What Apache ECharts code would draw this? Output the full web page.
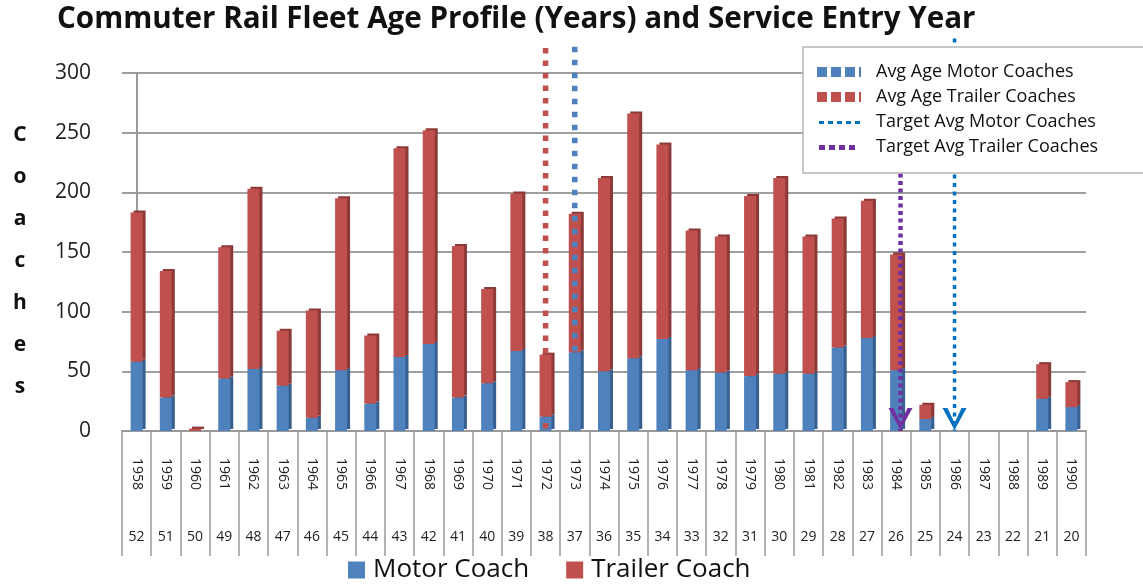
<!DOCTYPE html>
<html><head><meta charset="utf-8">
<script src="https://cdn.jsdelivr.net/npm/echarts@6/dist/echarts.min.js"></script>
<style>html,body{margin:0;padding:0;background:#fff}#c{width:1143px;height:586px}</style>
</head><body><div id="c"></div>
<script>
// ---- data ----
const years = ['1958','1959','1960','1961','1962','1963','1964','1965','1966','1967','1968','1969','1970','1971','1972','1973','1974','1975','1976','1977','1978','1979','1980','1981','1982','1983','1984','1985','1986','1987','1988','1989','1990'];
const ages = ['52','51','50','49','48','47','46','45','44','43','42','41','40','39','38','37','36','35','34','33','32','31','30','29','28','27','26','25','24','23','22','21','20'];
const motorCoach   = [58,28,0,44,52,38,11,51,23,62,73,28,40,67,12,66,50,61,77,51,49,46,48,48,70,78,51,10,0,0,0,27,20];
const trailerCoach = [125,106,2,110,151,46,90,144,57,175,179,127,79,132,52,116,162,205,163,117,114,151,164,115,108,115,97,12,0,0,0,29,21];
const yAxisMax = 300, yAxisInterval = 50;
// vertical reference lines: [category position, top value, bottom value]
const avgAgeMotorLine    = [15.0, 322, 0];
const avgAgeTrailerLine  = [14.0, 321, 0];
const targetMotorLine    = [28.0, 329, 0];
const targetTrailerLine  = [26.15, 310, 0];

const FONT = 'Open Sans';
const BLUE = '#4F81BD', RED = '#C0504D', TBLUE = '#0070C0', PURPLE = '#7030A0';
const chevron = 'path://M0,0 L5,0 L12,15 L19,0 L24,0 L12,22 Z';

function vline(name, def, color, width, dash, arrow) {
  const top = {value: [def[0], def[1]], symbol: 'none'};
  const bottom = arrow ? {value: [def[0], def[2]], symbol: chevron, symbolSize: [24, 22], symbolOffset: [0, -12]}
                       : {value: [def[0], def[2]], symbol: 'none'};
  return {
    name, type: 'line', xAxisIndex: 2, yAxisIndex: 0, clip: false, z: 3,
    symbol: 'none', showSymbol: true,
    data: [top, bottom],
    lineStyle: {color, width, type: dash, cap: 'butt'},
    itemStyle: {color, borderWidth: 0},
    emphasis: {disabled: true}
  };
}

const chart = echarts.init(document.getElementById('c'));
chart.setOption({
  animation: false,
  backgroundColor: '#fff',
  textStyle: {fontFamily: FONT},
  title: {
    text: 'Commuter Rail Fleet Age Profile (Years) and Service Entry Year',
    left: 57, top: 5, padding: 0,
    textStyle: {fontSize: 29.6, fontWeight: 'bold', color: '#111', fontFamily: FONT}
  },
  grid: {left: 122, right: 57, top: 73, bottom: 155},
  xAxis: [
    {type: 'category', data: years, position: 'bottom',
     axisLine: {lineStyle: {color: '#999', width: 2}},
     axisTick: {show: true, interval: 0, length: 125, lineStyle: {color: '#999', width: 1.5}},
     axisLabel: {interval: 0, rotate: -90, margin: 27, fontSize: 14, color: '#222', fontFamily: FONT}},
    {type: 'category', data: ages, position: 'bottom',
     axisLine: {show: false}, axisTick: {show: false},
     axisLabel: {interval: 0, margin: 99, fontSize: 14, color: '#222', fontFamily: FONT}},
    {type: 'value', min: -0.5, max: 32.5, show: false}
  ],
  yAxis: {
    type: 'value', min: 0, max: yAxisMax, interval: yAxisInterval,
    axisLine: {show: true, lineStyle: {color: '#999', width: 2}},
    axisTick: {show: true, length: 7, lineStyle: {color: '#999', width: 1.5}},
    axisLabel: {margin: 31, fontSize: 21, color: '#222', fontFamily: FONT},
    splitLine: {lineStyle: {color: '#a0a0a0', width: 2}}
  },
  legend: [
    {data: ['Motor Coach', 'Trailer Coach'], left: 348, top: 557, padding: 0,
     itemWidth: 17, itemHeight: 17, itemGap: 37, icon: 'rect',
     textStyle: {fontSize: 26, lineHeight: 26, color: '#111', fontFamily: FONT, padding: [0, 0, 0, 3]}},
    {orient: 'vertical', left: 817, top: 63, padding: 0, z: 100,
     itemWidth: 44, itemHeight: 10, itemGap: 7,
     textStyle: {fontSize: 18, lineHeight: 18, color: '#111', fontFamily: FONT, padding: [0, 0, 0, 10]},
     data: [
       {name: 'Avg Age Motor Coaches', icon: 'path://M0,0h10v10h-10z M14,0h10v10h-10z M28,0h10v10h-10z M42,0h2v10h-2z', itemStyle: {color: BLUE, borderWidth: 0}},
       {name: 'Avg Age Trailer Coaches', icon: 'path://M0,0h10v10h-10z M14,0h10v10h-10z M28,0h10v10h-10z M42,0h2v10h-2z', itemStyle: {color: RED, borderWidth: 0}},
       {name: 'Target Avg Motor Coaches', icon: 'path://M0,0L0.01,0L0,0.01Z M44,10L43.99,10L44,9.99Z M2,4h5v3h-5z M11,4h5v3h-5z M20,4h5v3h-5z M29,4h5v3h-5z M38,4h5v3h-5z', itemStyle: {color: TBLUE, borderWidth: 0}},
       {name: 'Target Avg Trailer Coaches', icon: 'path://M0,0L0.01,0L0,0.01Z M44,10L43.99,10L44,9.99Z M2,3h6v5h-6z M12,3h6v5h-6z M22,3h6v5h-6z M32,3h6v5h-6z', itemStyle: {color: PURPLE, borderWidth: 0}}
     ]}
  ],
  graphic: [
    {type: 'rect', z: 50, shape: {x: 803, y: 47, width: 345, height: 126},
     style: {fill: '#fff', stroke: '#b5b5b5', lineWidth: 1.5}},
    {type: 'text', z: 50, x: 20, y: 114,
     style: {text: 'C\no\na\nc\nh\ne\ns', fontSize: 21, fontWeight: 'bold', fontFamily: FONT,
             lineHeight: 42, fill: '#111', align: 'center', verticalAlign: 'top'}}
  ],
  series: [
    {name: 'Motor Coach', type: 'bar', stack: 'c', data: motorCoach, barWidth: 12,
     itemStyle: {color: BLUE, shadowColor: '#38608f', shadowOffsetX: 3, shadowOffsetY: -2, shadowBlur: 0}},
    {name: 'Trailer Coach', type: 'bar', stack: 'c', data: trailerCoach, barWidth: 12,
     itemStyle: {color: RED, shadowColor: '#8b3a38', shadowOffsetX: 3, shadowOffsetY: -2, shadowBlur: 0}},
    vline('Avg Age Motor Coaches', avgAgeMotorLine, BLUE, 5.5, [5.5, 7.5], false),
    vline('Avg Age Trailer Coaches', avgAgeTrailerLine, RED, 5.5, [5.5, 7], false),
    vline('Target Avg Motor Coaches', targetMotorLine, TBLUE, 3.5, [4, 4.5], true),
    vline('Target Avg Trailer Coaches', targetTrailerLine, PURPLE, 4.5, [4, 3.5], true)
  ]
});
</script></body></html>
